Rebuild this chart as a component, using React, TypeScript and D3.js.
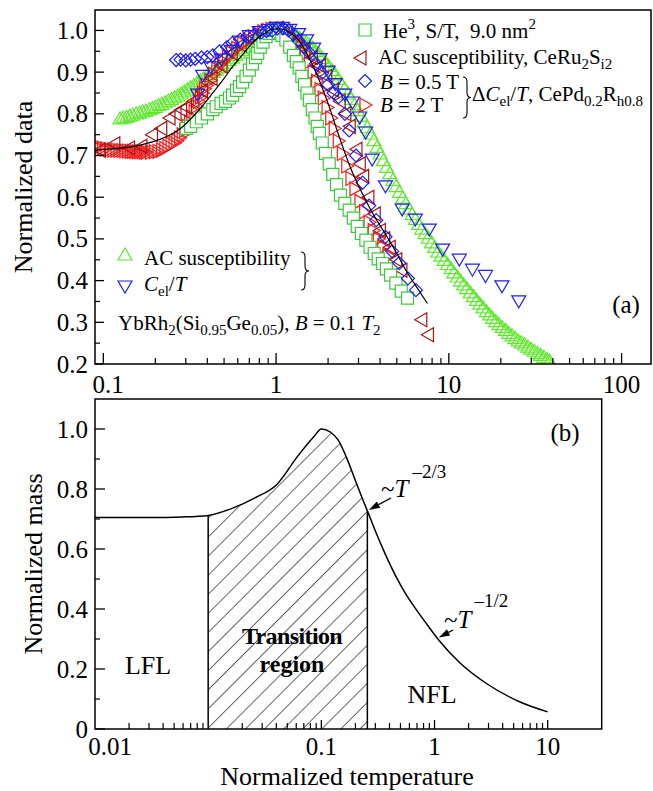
import React from "react";
import * as d3 from "d3";

type Pt = [number, number];

// ---------- Panel (a) data: [normalized temperature, normalized value] ----------
const heSquares: Pt[] = [
  [0.302,0.765],[0.32,0.77],[0.345,0.781],[0.37,0.79],[0.4,0.8],[0.43,0.81],[0.45,0.817],[0.48,0.825],
  [0.51,0.83],[0.537,0.838],[0.56,0.845],[0.59,0.856],[0.614,0.865],[0.64,0.876],[0.67,0.89],[0.7,0.905],
  [0.73,0.92],[0.76,0.935],[0.783,0.945],[0.81,0.96],[0.84,0.972],[0.875,0.985],[0.91,0.993],[0.95,1.0],
  [0.99,1.0],[1.03,0.996],[1.08,0.988],[1.14,0.977],[1.2,0.96],[1.26,0.94],[1.31,0.925],[1.36,0.91],
  [1.41,0.89],[1.46,0.87],[1.51,0.85],[1.56,0.833],[1.62,0.81],[1.68,0.79],[1.73,0.77],[1.78,0.753],
  [1.85,0.73],[1.93,0.705],[2.03,0.68],[2.13,0.655],[2.24,0.63],[2.36,0.605],[2.5,0.585],[2.65,0.569],
  [2.8,0.55],[2.95,0.53],[3.12,0.513],[3.31,0.497],[3.5,0.48],[3.7,0.465],[3.9,0.452],[4.13,0.441],
  [4.35,0.428],[4.6,0.413],[4.94,0.394],[5.3,0.375],[5.77,0.358]
];

const ceRuLeft: Pt[] = [
  [0.095,0.713],[0.115,0.728],[0.14,0.718],[0.165,0.722],[0.19,0.75],[0.215,0.765],[0.24,0.79],[0.26,0.8],
  [0.28,0.81],[0.3,0.815],[0.33,0.83],[0.37,0.855],[0.42,0.885],[0.48,0.915],[0.55,0.945],[0.62,0.965],
  [0.72,0.98],[0.82,0.995],[0.92,1.003],[1.02,1.005],[1.15,0.995],[1.3,0.975],[1.45,0.955],[1.6,0.935],
  [1.78,0.915],[1.94,0.89],[2.12,0.857],[2.32,0.83],[2.5,0.8],[2.65,0.77],[2.9,0.715],[3.03,0.68],
  [3.17,0.65],[3.4,0.6],[3.7,0.56],[3.96,0.52],[4.2,0.5],[4.52,0.48],[4.93,0.45],[5.28,0.425],
  [6.88,0.306],[7.52,0.27]
];

const cePdDiamonds: Pt[] = [
  [0.264,0.929],[0.28,0.93],[0.3,0.928],[0.32,0.93],[0.34,0.932],[0.37,0.935],[0.4,0.936],[0.43,0.94],
  [0.47,0.95],[0.52,0.96],[0.56,0.97],[0.62,0.978],[0.68,0.985],[0.75,0.99],[0.82,0.995],[0.88,0.998],
  [0.95,1.0],[1.02,1.005],[1.1,1.005],[1.18,1.0],[1.26,0.99],[1.35,0.975],[1.45,0.96],[1.56,0.946],
  [1.7,0.92],[1.85,0.898],[2.0,0.87],[2.15,0.85],[2.3,0.84],[2.5,0.8],[2.65,0.76],[2.9,0.7],
  [3.17,0.635],[3.46,0.58],[3.8,0.545],[4.3,0.505],[4.7,0.47],[5.16,0.442],[5.8,0.405],[6.45,0.377]
];

const cePdRight: Pt[] = [
  [0.091,0.721],[0.095,0.72],[0.1,0.718],[0.105,0.716],[0.11,0.714],[0.115,0.713],[0.12,0.713],[0.125,0.712],
  [0.13,0.712],[0.135,0.711],[0.14,0.711],[0.145,0.71],[0.15,0.71],[0.155,0.709],[0.16,0.709],[0.165,0.709],
  [0.17,0.709],[0.175,0.708],[0.18,0.708],[0.19,0.708],[0.2,0.709],[0.21,0.71],[0.22,0.713],[0.23,0.717],
  [0.24,0.722],[0.25,0.727],[0.26,0.73],[0.27,0.735],[0.28,0.742],[0.29,0.75],[0.3,0.76],[0.31,0.77],
  [0.32,0.78],[0.33,0.792],[0.34,0.805],[0.35,0.818],[0.36,0.83],[0.37,0.84],[0.38,0.85],[0.39,0.86],
  [0.4,0.868],[0.42,0.88],[0.44,0.895],[0.46,0.907],[0.48,0.918],[0.5,0.926],[0.53,0.936],[0.56,0.946],
  [0.6,0.957],[0.65,0.968],[0.7,0.977],[0.75,0.985],[0.8,0.992],[0.85,0.997],[0.9,1.0],[0.95,1.003],
  [1.0,1.004],[1.05,1.003],[1.1,1.0],[1.15,0.996],[1.2,0.99],[1.25,0.984],[1.3,0.978],[1.36,0.97],
  [1.42,0.96],[1.5,0.944],[1.58,0.925],[1.66,0.9],[1.74,0.878],[1.82,0.858],[1.9,0.838],[2.0,0.815],
  [2.1,0.79],[2.2,0.765],[2.32,0.735],[2.45,0.705],[2.6,0.675],[2.75,0.645],[2.9,0.62],[3.1,0.59],
  [3.3,0.565],[3.5,0.54],[3.7,0.52],[3.96,0.5],[4.2,0.48],[4.5,0.46]
];

const ybAcUp: Pt[] = [
  [0.125,0.79],[0.13,0.792],[0.136,0.794],[0.142,0.797],[0.148,0.799],[0.155,0.802],[0.162,0.804],[0.169,0.807],
  [0.176,0.809],[0.184,0.812],[0.192,0.815],[0.2,0.818],[0.209,0.822],[0.218,0.825],[0.228,0.829],[0.238,0.833],
  [0.248,0.837],[0.259,0.841],[0.27,0.845],[0.282,0.85],[0.294,0.855],[0.307,0.86],[0.32,0.865],[0.334,0.87],
  [0.349,0.876],[0.364,0.881],[0.38,0.886],[0.397,0.892],[0.414,0.897],[0.432,0.902],[0.451,0.907],[0.471,0.913],
  [0.491,0.918],[0.513,0.924],[0.535,0.93],[0.559,0.936],[0.583,0.942],[0.609,0.948],[0.635,0.954],[0.663,0.96],
  [0.692,0.965],[0.722,0.97],[0.754,0.976],[0.787,0.981],[0.821,0.986],[0.857,0.99],[0.895,0.994],[0.934,0.997],
  [0.975,0.999],[1.02,1.0],[1.06,1.0],[1.11,0.999],[1.16,0.997],[1.21,0.995],[1.26,0.992],[1.32,0.988],
  [1.37,0.984],[1.43,0.979],[1.5,0.973],[1.56,0.967],[1.63,0.96],[1.7,0.952],[1.78,0.944],[1.85,0.935],
  [1.93,0.926],[2.02,0.916],[2.11,0.906],[2.2,0.896],[2.29,0.885],[2.39,0.874],[2.5,0.862],[2.61,0.85],
  [2.72,0.837],[2.84,0.824],[2.97,0.81],[3.1,0.797],[3.23,0.783],[3.37,0.769],[3.52,0.754],[3.68,0.738],
  [3.84,0.722],[4.0,0.706],[4.18,0.69],[4.36,0.674],[4.55,0.659],[4.75,0.643],[4.96,0.628],[5.17,0.614],
  [5.4,0.6],[5.64,0.587],[5.88,0.574],[6.14,0.561],[6.41,0.549],[6.69,0.537],[6.98,0.526],[7.29,0.515],
  [7.61,0.504],[7.94,0.493],[8.29,0.482],[8.65,0.471],[9.03,0.461],[9.42,0.451],[9.84,0.441],[10.3,0.431],
  [10.7,0.421],[11.2,0.411],[11.7,0.401],[12.2,0.392],[12.7,0.383],[13.3,0.373],[13.9,0.364],[14.5,0.355],
  [15.1,0.346],[15.8,0.337],[16.5,0.328],[17.2,0.32],[17.9,0.312],[18.7,0.304],[19.5,0.297],[20.4,0.29],
  [21.3,0.283],[22.2,0.276],[23.2,0.27],[24.2,0.264],[25.2,0.258],[26.3,0.253],[27.5,0.248],[28.7,0.243],
  [29.9,0.238],[31.2,0.233],[32.6,0.228],[34,0.223],[35.5,0.218],[37,0.213],[38.3,0.209]
];

const ybCelDown: Pt[] = [
  [0.351,0.845],[0.376,0.89],[0.42,0.91],[0.483,0.929],[0.55,0.95],[0.614,0.972],[0.7,0.985],[0.8,0.995],
  [0.9,1.0],[1.0,1.005],[1.09,1.005],[1.2,1.0],[1.35,0.99],[1.5,0.975],[1.65,0.955],[1.8,0.93],
  [2.0,0.9],[2.2,0.87],[2.5,0.845],[2.77,0.826],[3.05,0.79],[3.3,0.754],[3.6,0.689],[4.3,0.625],
  [5.37,0.569],[6.4,0.545],[7.7,0.521],[9.2,0.473],[11.5,0.449],[13.7,0.425],[16.3,0.41],[20.3,0.385],
  [25.4,0.349]
];

const theoryLine: Pt[] = [
  [0.09,0.713],[0.12,0.717],[0.15,0.722],[0.19,0.732],[0.231,0.745],[0.28,0.765],[0.33,0.793],[0.38,0.822],
  [0.43,0.85],[0.5,0.885],[0.56,0.913],[0.65,0.945],[0.73,0.97],[0.85,0.992],[0.955,1.003],[1.05,1.004],
  [1.2,0.995],[1.36,0.975],[1.55,0.935],[1.78,0.88],[2.0,0.825],[2.32,0.745],[2.7,0.67],[3.17,0.607],
  [3.7,0.555],[4.32,0.51],[5.0,0.465],[5.64,0.425],[6.5,0.385],[7.52,0.345]
];

const aXTicks = [0.1, 1, 10, 100];
const aXTickLabels = ["0.1", "1", "10", "100"];
const aYTicks = [0.2, 0.3, 0.4, 0.5, 0.6, 0.7, 0.8, 0.9, 1.0];

// ---------- Panel (b) data ----------
const massCurve: Pt[] = [
  [0.001,0.705],[0.003,0.705],[0.006,0.707],[0.01,0.712],[0.0169,0.738],[0.0254,0.769],[0.0409,0.817],
  [0.0614,0.908],[0.0861,0.975],[0.1,1.0],[0.12,0.99],[0.141,0.963],[0.166,0.907],[0.199,0.83],
  [0.235,0.76],[0.255,0.727],[0.3,0.66],[0.367,0.583],[0.45,0.513],[0.551,0.453],[0.675,0.403],
  [0.826,0.357],[1.07,0.3],[1.68,0.22],[2.92,0.15],[5.7,0.09],[10,0.057]
];
const transitionRange: [number, number] = [0.01, 0.255];
const arrowTargets = [0.255, 1.07];
const bXTicks = [0.001, 0.1, 1, 10];
const bXTickLabels = ["0.01", "0.1", "1", "10"];
const bYTicks = [0, 0.2, 0.4, 0.6, 0.8, 1.0];
const bYTickLabels = ["0", "0.2", "0.4", "0.6", "0.8", "1.0"];

// ---------- styling ----------
const FONT = '"Liberation Serif", "Times New Roman", Times, serif';
const GREEN_SQ = "#3cc83c";
const GREEN_TRI = "#5fe82d";
const BLUE = "#1e1ef5";
const RED = "#f21c1c";
const DARK_RED = "#a51515";

const shapes: Record<string, string> = {
  square: "M-6,-6h12v12h-12z",
  up: "M0,-6L7,6L-7,6Z",
  down: "M-7,-6L7,-6L0,6Z",
  left: "M-6,0L6,-7L6,7Z",
  right: "M6,0L-6,-7L-6,7Z",
  diamond: "M0,-6.5L6.5,0L0,6.5L-6.5,0Z",
};

function bracePath(x: number, y1: number, y2: number, w: number) {
  const ym = (y1 + y2) / 2;
  const q = 5;
  const xm = x + w / 2;
  return `M${x},${y1} Q${xm},${y1} ${xm},${y1 + q} L${xm},${ym - q} Q${xm},${ym} ${x + w},${ym} Q${xm},${ym} ${xm},${ym + q} L${xm},${y2 - q} Q${xm},${y2} ${x},${y2}`;
}

function minorLog(lo: number, hi: number) {
  const out: number[] = [];
  for (let d = lo; d < hi; d *= 10) {
    for (let k = 2; k <= 9; k++) out.push(d * k);
  }
  return out;
}

export default function App() {
  // panel (a) geometry
  const aL = 95, aR = 651, aT = 10, aB = 364;
  const xA = d3.scaleLog().domain([0.0895, 148]).range([aL, aR]);
  const yA = d3.scaleLinear().domain([0.2, 1.049]).range([aB, aT]);

  // panel (b) geometry
  const bL = 95, bR = 601.7, bT = 399, bB = 729;
  const xB = d3.scaleLog().domain([0.001, 30]).range([bL, bR]);
  const yB = d3.scaleLinear().domain([0, 1.1]).range([bB, bT]);

  const line = d3
    .line<Pt>()
    .x((d) => xA(d[0]))
    .y((d) => yA(d[1]))
    .curve(d3.curveMonotoneX);

  const massLine = d3
    .line<Pt>()
    .x((d) => xB(d[0]))
    .y((d) => yB(d[1]))
    .curve(d3.curveMonotoneX);
  const massArea = d3
    .area<Pt>()
    .x((d) => xB(d[0]))
    .y0(bB)
    .y1((d) => yB(d[1]))
    .curve(d3.curveMonotoneX);

  const series: { data: Pt[]; shape: string; color: string; fill: string }[] = [
    { data: ybAcUp, shape: "up", color: GREEN_TRI, fill: "none" },
    { data: cePdRight, shape: "right", color: RED, fill: "none" },
    { data: ceRuLeft, shape: "left", color: DARK_RED, fill: "none" },
    { data: heSquares, shape: "square", color: GREEN_SQ, fill: "#ffffff" },
    { data: cePdDiamonds, shape: "diamond", color: BLUE, fill: "none" },
    { data: ybCelDown, shape: "down", color: BLUE, fill: "none" },
  ];

  const marker = (shape: string, x: number, y: number, color: string, fill: string, key?: string | number) => (
    <path
      key={key}
      d={shapes[shape]}
      transform={`translate(${x},${y})`}
      fill={fill}
      stroke={color}
      strokeWidth={1.2}
    />
  );

  const aMinorX = minorLog(0.1, 100);
  const aMinorY = d3.range(0.25, 1.05, 0.1);
  const bMinorX = minorLog(0.001, 10);
  const bMinorY = d3.range(0.1, 1.05, 0.2);

  const ptAt = (t: number) => massCurve.find((d) => d[0] === t)!;
  const tipA = ptAt(arrowTargets[0]);
  const tipB = ptAt(arrowTargets[1]);
  const tA: Pt = [xB(tipA[0]) + 1.5, yB(tipA[1]) - 1];
  const tB: Pt = [xB(tipB[0]) + 1, yB(tipB[1]) - 1.5];

  const arrow = (tip: Pt, from: Pt) => {
    const dx = from[0] - tip[0], dy = from[1] - tip[1];
    const len = Math.hypot(dx, dy);
    const ux = dx / len, uy = dy / len;
    const hl = 11, hw = 3.5;
    const bx = tip[0] + ux * hl, by = tip[1] + uy * hl;
    return (
      <g>
        <line x1={from[0]} y1={from[1]} x2={bx} y2={by} stroke="#000" strokeWidth={1.3} />
        <path
          d={`M${tip[0]},${tip[1]} L${bx - uy * hw},${by + ux * hw} L${bx + uy * hw},${by - ux * hw} Z`}
          fill="#000"
        />
      </g>
    );
  };

  const hatchY0 = yB(ptAt(transitionRange[0])[1]);
  const hatchY1 = yB(ptAt(transitionRange[1])[1]);

  return (
    <svg
      width={653}
      height={791}
      style={{ position: "absolute", left: 0, top: 0, background: "#fff" }}
      fontFamily={FONT}
    >
      <defs>
        <clipPath id="clipA">
          <rect x={aL} y={aT} width={aR - aL} height={aB - aT} />
        </clipPath>
        <clipPath id="underCurve">
          <path d={massArea(massCurve) || ""} />
        </clipPath>
        <pattern id="hatch" width={13.5} height={13.5} patternUnits="userSpaceOnUse" patternTransform="rotate(45)">
          <line x1={0} y1={0} x2={0} y2={13.5} stroke="#000" strokeWidth={1.2} />
        </pattern>
      </defs>

      {/* ================= Panel (a) ================= */}
      <g clipPath="url(#clipA)">
        {series.map((s, si) => (
          <g key={si}>
            {s.data.map((d, i) => marker(s.shape, xA(d[0]), yA(d[1]), s.color, s.fill, i))}
          </g>
        ))}
        <path d={line(theoryLine) || ""} fill="none" stroke="#000" strokeWidth={1.2} />
      </g>

      <rect x={aL} y={aT} width={aR - aL} height={aB - aT} fill="none" stroke="#000" strokeWidth={1.5} />
      {aXTicks.map((t) => (
        <line key={"axm" + t} x1={xA(t)} x2={xA(t)} y1={aB} y2={aB - 11} stroke="#000" strokeWidth={1.3} />
      ))}
      {aMinorX.map((t) => (
        <line key={"axn" + t} x1={xA(t)} x2={xA(t)} y1={aB} y2={aB - 6} stroke="#000" strokeWidth={1.2} />
      ))}
      {aYTicks.map((t) => (
        <line key={"aym" + t} x1={aL} x2={aL + 9} y1={yA(t)} y2={yA(t)} stroke="#000" strokeWidth={1.3} />
      ))}
      {aMinorY.map((t) => (
        <line key={"ayn" + t} x1={aL} x2={aL + 5} y1={yA(t)} y2={yA(t)} stroke="#000" strokeWidth={1.2} />
      ))}
      {aXTicks.map((t, i) => (
        <text key={"axl" + t} x={Math.max(xA(t), aL + 13)} y={393} fontSize={25} textAnchor="middle">
          {aXTickLabels[i]}
        </text>
      ))}
      {aYTicks.map((t) => (
        <text key={"ayl" + t} x={88} y={yA(t) + 8.5} fontSize={25} textAnchor="end">
          {d3.format(".1f")(t)}
        </text>
      ))}
      <text transform={`translate(32,${(aT + aB) / 2}) rotate(-90)`} fontSize={26} textAnchor="middle">
        Normalized data
      </text>
      <text x={626} y={313} fontSize={25} textAnchor="middle">(a)</text>

      {/* top-right legend */}
      {marker("square", 365, 30, GREEN_SQ, "#fff")}
      <text x={383} y={38} fontSize={21} style={{ whiteSpace: "pre" }}>
        He<tspan dy={-9} fontSize={15}>3</tspan>
        <tspan dy={9}>, S/T,  9.0 nm</tspan>
        <tspan dy={-9} fontSize={15}>2</tspan>
      </text>
      {marker("left", 360, 58, DARK_RED, "none")}
      <text x={378} y={64} fontSize={21}>
        AC susceptibility, CeRu<tspan dy={5} fontSize={15}>2</tspan>
        <tspan dy={-5}>S</tspan>
        <tspan dy={5} fontSize={15}>i2</tspan>
      </text>
      {marker("diamond", 365, 81, BLUE, "none")}
      <text x={380} y={89} fontSize={21}>
        <tspan fontStyle="italic">B</tspan> = 0.5 T
      </text>
      {marker("right", 366, 105, RED, "none")}
      <text x={380} y={112} fontSize={21}>
        <tspan fontStyle="italic">B</tspan> = 2 T
      </text>
      <path d={bracePath(463, 77, 118, 8)} fill="none" stroke="#000" strokeWidth={1.1} />
      <text x={472} y={101} fontSize={21}>
        Δ<tspan fontStyle="italic">C</tspan>
        <tspan dy={5} fontSize={15}>el</tspan>
        <tspan dy={-5}>/</tspan>
        <tspan fontStyle="italic">T</tspan>, CePd<tspan dy={5} fontSize={15}>0.2</tspan>
        <tspan dy={-5}>R</tspan>
        <tspan dy={5} fontSize={15}>h0.8</tspan>
      </text>

      {/* bottom-left legend */}
      {marker("up", 125, 254, GREEN_TRI, "none")}
      <text x={144} y={265} fontSize={21}>AC susceptibility</text>
      {marker("down", 125, 287, BLUE, "none")}
      <text x={144} y={291} fontSize={21}>
        <tspan fontStyle="italic">C</tspan>
        <tspan dy={5} fontSize={15}>el</tspan>
        <tspan dy={-5}>/</tspan>
        <tspan fontStyle="italic">T</tspan>
      </text>
      <path d={bracePath(301, 252, 290, 8)} fill="none" stroke="#000" strokeWidth={1.1} />
      <text x={118} y={330} fontSize={21}>
        YbRh<tspan dy={5} fontSize={15}>2</tspan>
        <tspan dy={-5}>(Si</tspan>
        <tspan dy={5} fontSize={15}>0.95</tspan>
        <tspan dy={-5}>Ge</tspan>
        <tspan dy={5} fontSize={15}>0.05</tspan>
        <tspan dy={-5}>), </tspan>
        <tspan fontStyle="italic">B</tspan> = 0.1 <tspan fontStyle="italic">T</tspan>
        <tspan dy={5} fontSize={15}>2</tspan>
      </text>

      {/* ================= Panel (b) ================= */}
      {bXTicks.slice(1).map((t) => (
        <line key={"bxm" + t} x1={xB(t)} x2={xB(t)} y1={bB} y2={bB - 9} stroke="#000" strokeWidth={1.3} />
      ))}
      {bMinorX.map((t) => (
        <line key={"bxn" + t} x1={xB(t)} x2={xB(t)} y1={bB} y2={bB - 6} stroke="#000" strokeWidth={1.2} />
      ))}
      {bYTicks.map((t) => (
        <line key={"bym" + t} x1={bL} x2={bL + 10} y1={yB(t)} y2={yB(t)} stroke="#000" strokeWidth={1.3} />
      ))}
      {bMinorY.map((t) => (
        <line key={"byn" + t} x1={bL} x2={bL + 5} y1={yB(t)} y2={yB(t)} stroke="#000" strokeWidth={1.2} />
      ))}

      <rect
        x={xB(transitionRange[0])}
        y={bT}
        width={xB(transitionRange[1]) - xB(transitionRange[0])}
        height={bB - bT}
        fill="url(#hatch)"
        clipPath="url(#underCurve)"
      />
      <line x1={xB(transitionRange[0])} x2={xB(transitionRange[0])} y1={bB} y2={hatchY0} stroke="#000" strokeWidth={1.5} />
      <line x1={xB(transitionRange[1])} x2={xB(transitionRange[1])} y1={bB} y2={hatchY1} stroke="#000" strokeWidth={1.5} />

      <path d={massLine(massCurve) || ""} fill="none" stroke="#000" strokeWidth={1.5} />
      <rect x={bL} y={bT} width={bR - bL} height={bB - bT} fill="none" stroke="#000" strokeWidth={1.5} />

      {bXTicks.map((t, i) => (
        <text key={"bxl" + t} x={Math.max(xB(t), bL + 15)} y={755} fontSize={25} textAnchor="middle">
          {bXTickLabels[i]}
        </text>
      ))}
      {bYTicks.map((t, i) => (
        <text key={"byl" + t} x={88} y={yB(t) + 8.5} fontSize={25} textAnchor="end">
          {bYTickLabels[i]}
        </text>
      ))}
      <text transform={`translate(42,${(bT + bB) / 2}) rotate(-90)`} fontSize={26} textAnchor="middle">
        Normalized mass
      </text>
      <text x={347} y={785} fontSize={26} textAnchor="middle">Normalized temperature</text>
      <text x={565} y={441} fontSize={25} textAnchor="middle">(b)</text>

      <text x={148} y={674} fontSize={26} textAnchor="middle">LFL</text>
      <text x={432} y={703} fontSize={26} textAnchor="middle">NFL</text>
      <text x={292} y={644} fontSize={24} fontWeight="bold" textAnchor="middle" letterSpacing={-0.6}>
        Transition
      </text>
      <text x={292} y={672} fontSize={24} fontWeight="bold" textAnchor="middle">region</text>

      {arrow(tA, [391, 498])}
      <text x={381} y={497} fontSize={25}>
        ~<tspan fontStyle="italic">T</tspan>
        <tspan dx={4} dy={-19} fontSize={19}>–2/3</tspan>
      </text>
      {arrow(tB, [453, 630])}
      <text x={444} y={628} fontSize={25}>
        ~<tspan fontStyle="italic">T</tspan>
        <tspan dx={3} dy={-21} fontSize={19}>–1/2</tspan>
      </text>
    </svg>
  );
}
